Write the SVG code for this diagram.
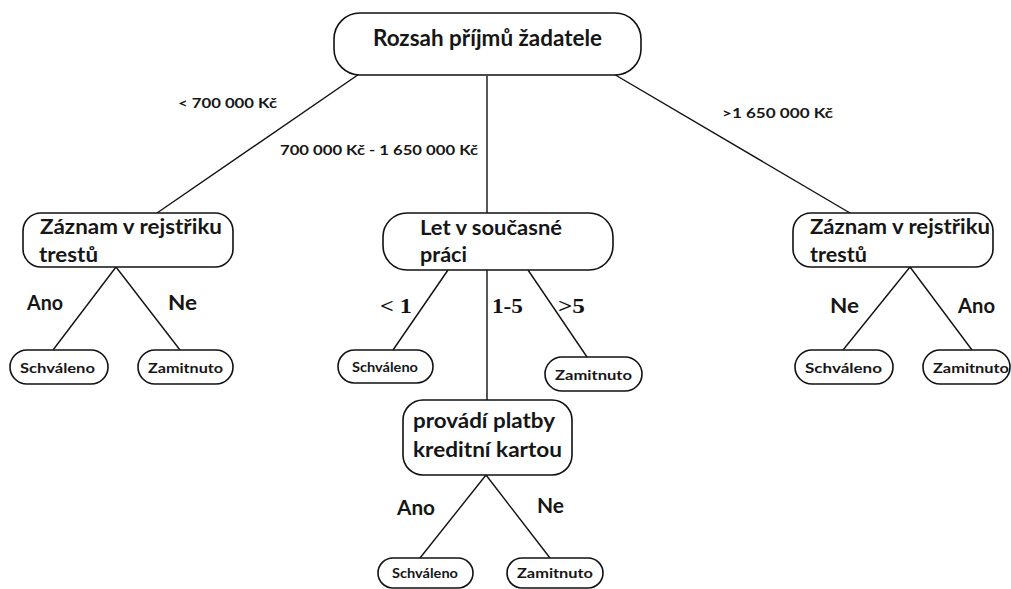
<svg xmlns="http://www.w3.org/2000/svg" width="1011" height="589" viewBox="0 0 1011 589">
<style>
.box{fill:#fff;stroke:#111;stroke-width:1.6}
.edge{stroke:#111;stroke-width:1.4;fill:none}
.t{font-family:Lato,"Open Sans",sans-serif;font-weight:bold;fill:#161616}
.big{font-size:22px}
.mid{font-size:20.5px}
.sm{font-size:13.5px}
.lbl{font-size:20px}
.el{font-size:13px}
.num{font-family:"Liberation Serif",serif;font-weight:bold;font-size:20px;fill:#111}
</style>
<rect width="1011" height="589" fill="#fff"/>
<g id="connectors">
<line class="edge" x1="365" y1="70" x2="157" y2="213"/>
<line class="edge" x1="487" y1="76" x2="487" y2="213"/>
<line class="edge" x1="612" y1="73" x2="850" y2="213"/>
<line class="edge" x1="116" y1="267" x2="53" y2="350"/>
<line class="edge" x1="116" y1="267" x2="180" y2="350"/>
<line class="edge" x1="448" y1="270" x2="393" y2="350"/>
<line class="edge" x1="487" y1="270" x2="487" y2="400"/>
<line class="edge" x1="528" y1="270" x2="587" y2="357"/>
<line class="edge" x1="910" y1="267" x2="843" y2="350"/>
<line class="edge" x1="910" y1="267" x2="972" y2="350"/>
<line class="edge" x1="486" y1="475" x2="420" y2="558"/>
<line class="edge" x1="486" y1="475" x2="550" y2="558"/>
<text class="t el" x="178" y="108" textLength="99" lengthAdjust="spacingAndGlyphs">&lt; 700 000 Kč</text>
<text class="t el" x="280" y="155" textLength="198" lengthAdjust="spacingAndGlyphs">700 000 Kč - 1 650 000 Kč</text>
<text class="t el" x="722" y="118" textLength="111" lengthAdjust="spacingAndGlyphs">&gt;1 650 000 Kč</text>
<text class="t lbl" x="27" y="310" textLength="36" lengthAdjust="spacingAndGlyphs">Ano</text>
<text class="t lbl" x="168" y="310" textLength="29" lengthAdjust="spacingAndGlyphs">Ne</text>
<text class="num" x="380" y="313" textLength="32" lengthAdjust="spacingAndGlyphs">&lt; 1</text>
<text class="num" x="492" y="313" textLength="31" lengthAdjust="spacingAndGlyphs">1-5</text>
<text class="num" x="558" y="313" textLength="27" lengthAdjust="spacingAndGlyphs">&gt;5</text>
<text class="t lbl" x="830" y="313" textLength="29" lengthAdjust="spacingAndGlyphs">Ne</text>
<text class="t lbl" x="958" y="313" textLength="37" lengthAdjust="spacingAndGlyphs">Ano</text>
<text class="t lbl" x="397" y="515" textLength="38" lengthAdjust="spacingAndGlyphs">Ano</text>
<text class="t lbl" x="537" y="513" textLength="27" lengthAdjust="spacingAndGlyphs">Ne</text>
</g>
<g id="root">
<rect class="box" x="334" y="13" width="307" height="62" rx="26"/>
<text class="t big" x="373" y="46" textLength="229" lengthAdjust="spacingAndGlyphs">Rozsah příjmů žadatele</text>
</g>
<g id="zaznam-left">
<rect class="box" x="23" y="213" width="210" height="54" rx="18"/>
<text class="t mid" x="40" y="234" textLength="182" lengthAdjust="spacingAndGlyphs">Záznam v rejstřiku</text>
<text class="t mid" x="39" y="262" textLength="59" lengthAdjust="spacingAndGlyphs">trestů</text>
</g>
<g id="let">
<rect class="box" x="383" y="213" width="230" height="57" rx="24"/>
<text class="t mid" x="420" y="235" textLength="142" lengthAdjust="spacingAndGlyphs">Let v současné</text>
<text class="t mid" x="420" y="262" textLength="47" lengthAdjust="spacingAndGlyphs">práci</text>
</g>
<g id="zaznam-right">
<rect class="box" x="793" y="213" width="200" height="54" rx="18"/>
<text class="t mid" x="810" y="234" textLength="180" lengthAdjust="spacingAndGlyphs">Záznam v rejstřiku</text>
<text class="t mid" x="810" y="262" textLength="57" lengthAdjust="spacingAndGlyphs">trestů</text>
</g>
<g id="provadi">
<rect class="box" x="403" y="400" width="169" height="75" rx="20"/>
<text class="t mid" x="413" y="428" textLength="142" lengthAdjust="spacingAndGlyphs">provádí platby</text>
<text class="t mid" x="413" y="457" textLength="149" lengthAdjust="spacingAndGlyphs">kreditní kartou</text>
</g>
<g id="l-schvaleno">
<rect class="box" x="10" y="350" width="98" height="34" rx="17"/>
<text class="t sm" x="20" y="373" textLength="75" lengthAdjust="spacingAndGlyphs">Schváleno</text>
</g>
<g id="l-zamitnuto">
<rect class="box" x="138" y="350" width="95" height="34" rx="17"/>
<text class="t sm" x="148" y="373" textLength="75" lengthAdjust="spacingAndGlyphs">Zamitnuto</text>
</g>
<g id="m-schvaleno">
<rect class="box" x="338" y="350" width="95" height="33" rx="16.5"/>
<text class="t sm" x="352" y="372" textLength="66" lengthAdjust="spacingAndGlyphs">Schváleno</text>
</g>
<g id="m-zamitnuto">
<rect class="box" x="545" y="357" width="97" height="34" rx="17"/>
<text class="t sm" x="555" y="380" textLength="77" lengthAdjust="spacingAndGlyphs">Zamitnuto</text>
</g>
<g id="r-schvaleno">
<rect class="box" x="795" y="350" width="98" height="34" rx="17"/>
<text class="t sm" x="805" y="373" textLength="77" lengthAdjust="spacingAndGlyphs">Schváleno</text>
</g>
<g id="r-zamitnuto">
<rect class="box" x="923" y="350" width="87" height="34" rx="17"/>
<text class="t sm" x="933" y="373" textLength="76" lengthAdjust="spacingAndGlyphs">Zamitnuto</text>
</g>
<g id="b-schvaleno">
<rect class="box" x="378" y="558" width="95" height="30" rx="15"/>
<text class="t sm" x="392" y="578" textLength="66" lengthAdjust="spacingAndGlyphs">Schváleno</text>
</g>
<g id="b-zamitnuto">
<rect class="box" x="507" y="558" width="96" height="30" rx="15"/>
<text class="t sm" x="517" y="578" textLength="76" lengthAdjust="spacingAndGlyphs">Zamitnuto</text>
</g>
</svg>
